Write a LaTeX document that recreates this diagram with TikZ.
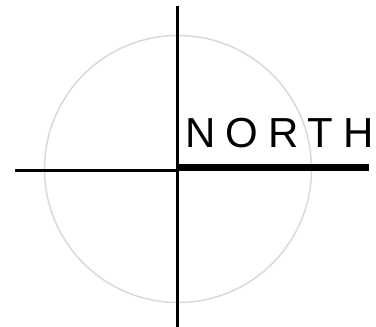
\documentclass[tikz,border=0pt]{standalone}
\usepackage{fontspec}
\setmainfont{Liberation Sans}
\newfontfamily\spacedfont[LetterSpace=24]{Liberation Sans}
\usepackage{tikz}
\definecolor{RingGray}{RGB}{217, 217, 217}

\begin{document}
\begin{tikzpicture}[x=1pt, y=1pt]
    \useasboundingbox (0,0) rectangle (376,327);

    % Points
    \coordinate (centre) at (178,158);
    \coordinate (top) at (177.5,320.5);
    \coordinate (bottom) at (177.5,0);
    \coordinate (west) at (15,156.5);
    \coordinate (mid) at (178,156.5);
    \coordinate (east) at (369,159.5);
    \coordinate (start) at (176.5,159.5);

    % Ring
    \draw[RingGray, line width=1.5pt] (centre) circle (133.5);

    % Cross
    \draw[line width=3pt] (top) -- (bottom);
    \draw[line width=2.5pt] (west) -- (mid);
    \draw[line width=7.5pt] (start) -- (east);

    % Label
    \node[anchor=base west, inner sep=0pt, font=\spacedfont\fontsize{42}{42}\selectfont] (north) at (185,179.5) {NORTH};
\end{tikzpicture}
\end{document}
